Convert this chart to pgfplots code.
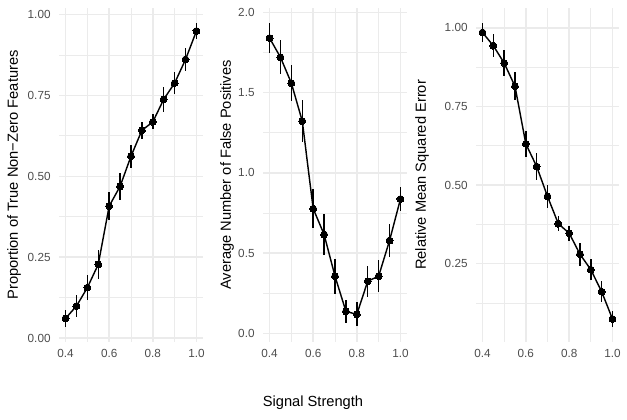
\documentclass[border=0pt]{standalone}
\usepackage{fontspec}
\setmainfont{Liberation Sans}
\usepackage{pgfplots}
\pgfplotsset{compat=1.18}
\usepackage{pgfplotstable}

\definecolor{gridgrey}{HTML}{EBEBEB}
\definecolor{ticktext}{HTML}{4D4D4D}

% signal strength, mean, standard error
\pgfplotstableread{
x    y     e
0.40 0.061 0.027
0.45 0.099 0.033
0.50 0.156 0.038
0.55 0.228 0.045
0.60 0.408 0.042
0.65 0.469 0.041
0.70 0.562 0.035
0.75 0.642 0.026
0.80 0.668 0.023
0.85 0.738 0.038
0.90 0.788 0.035
0.95 0.861 0.035
1.00 0.949 0.025
}\tpr

\pgfplotstableread{
x    y     e
0.40 1.840 0.092
0.45 1.720 0.105
0.50 1.559 0.110
0.55 1.322 0.130
0.60 0.777 0.122
0.65 0.616 0.128
0.70 0.356 0.108
0.75 0.137 0.071
0.80 0.118 0.075
0.85 0.325 0.096
0.90 0.356 0.100
0.95 0.578 0.102
1.00 0.837 0.076
}\fpos

\pgfplotstableread{
x    y     e
0.40 0.985 0.029
0.45 0.943 0.036
0.50 0.888 0.040
0.55 0.814 0.045
0.60 0.631 0.042
0.65 0.559 0.042
0.70 0.464 0.036
0.75 0.377 0.024
0.80 0.347 0.024
0.85 0.280 0.037
0.90 0.231 0.033
0.95 0.161 0.033
1.00 0.074 0.026
}\rmse

\pgfplotsset{
  facet/.style={
    anchor=north west,
    scale only axis, width=108pt, height=250.5pt,
    xmin=0.37, xmax=1.03,
    axis line style={draw=none},
    major tick length=0pt, minor tick length=0pt,
    grid=both,
    major grid style={draw=gridgrey, line width=1.07pt},
    minor grid style={draw=gridgrey, line width=0.53pt},
    xtick={0.4,0.6,0.8,1.0}, minor xtick={0.5,0.7,0.9},
    xticklabel style={/pgf/number format/fixed, /pgf/number format/fixed zerofill,
      /pgf/number format/precision=1, yshift=-2.3pt},
    yticklabel style={xshift=-2.8pt},
    tick label style={font=\fontsize{8.8}{10}\selectfont, text=ticktext},
    /pgf/number format/assume math mode=true,
    ylabel style={font=\fontsize{11}{13}\selectfont, anchor=center},
  },
  yfmt/.style={
    yticklabel style={/pgf/number format/fixed, /pgf/number format/fixed zerofill,
      /pgf/number format/precision=#1},
  },
  series/.style={
    black, line width=1.07pt,
    mark=*, mark size=2.6pt,
    mark options={solid, fill=black, draw=black, line width=0pt},
    error bars/.cd, y dir=both, y explicit,
    error bar style={line width=1.07pt, black}, error mark=none,
  },
}

\begin{document}
\begin{tikzpicture}
\useasboundingbox (0,0) rectangle (470.25pt,-315pt);

\begin{axis}[facet, at={(44.25pt,-6pt)},
  ymin=-0.012, ymax=1.02,
  ytick={0,0.25,0.5,0.75,1}, minor ytick={0.125,0.375,0.625,0.875},
  yfmt=2,
  ylabel={Proportion of True Non−Zero Features},
  ylabel style={at={(axis description cs:-0.3125,0.5)}},
]
\addplot[series] table[x=x, y=y, y error=e] {\tpr};
\end{axis}

\begin{axis}[facet, at={(197.25pt,-6pt)},
  ymin=-0.054, ymax=2.027,
  ytick={0,0.5,1,1.5,2}, minor ytick={0.25,0.75,1.25,1.75},
  yfmt=1,
  ylabel={Average Number of False Positives},
  ylabel style={at={(axis description cs:-0.25,0.5)}},
]
\addplot[series] table[x=x, y=y, y error=e] {\fpos};
\end{axis}

\begin{axis}[facet, at={(357pt,-6pt)}, width=107.25pt,
  ymin=0.001, ymax=1.063,
  ytick={0.25,0.5,0.75,1}, minor ytick={0.125,0.375,0.625,0.875},
  yfmt=2,
  ylabel={Relative Mean Squared Error},
  ylabel style={at={(axis description cs:-0.3776,0.5)}},
]
\addplot[series] table[x=x, y=y, y error=e] {\rmse};
\end{axis}

\node[font=\fontsize{11}{13}\selectfont] at (234.75pt,-302.25pt) {Signal Strength};
\end{tikzpicture}
\end{document}
